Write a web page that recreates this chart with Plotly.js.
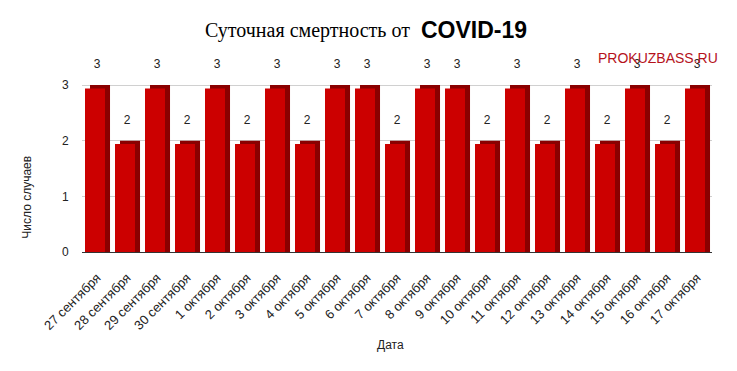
<!DOCTYPE html>
<html><head><meta charset="utf-8">
<script src="https://cdn.plot.ly/plotly-3.0.1.min.js"></script>
<style>html,body{margin:0;padding:0;background:#fff}#c{width:737px;height:371px}</style>
</head><body><div id="c"></div>
<script>
const dates = ["27 сентября","28 сентября","29 сентября","30 сентября","1 октября","2 октября","3 октября","4 октября","5 октября","6 октября","7 октября","8 октября","9 октября","10 октября","11 октября","12 октября","13 октября","14 октября","15 октября","16 октября","17 октября"];
const deaths = [3,2,3,2,3,2,3,2,3,3,2,3,3,2,3,2,3,2,3,2,3];
const labelText = deaths.map(String);
const titleMain = 'Суточная смертность от';
const titleBold = 'COVID-19';

const side = {type:'bar', x:dates, y:deaths, base:0, offset:-0.233, width:0.667,
  marker:{color:'#8a0000', line:{width:0}}, hoverinfo:'skip', showlegend:false};
const front = {type:'bar', x:dates, y:deaths, base:-0.06, offset:-0.4, width:0.667,
  marker:{color:'#cc0000', line:{width:0}}, showlegend:false};
const labels = {type:'scatter', mode:'text', x:dates, y:deaths.map(v=>v+0.36), text:labelText,
  textfont:{family:'Liberation Sans, Arial, sans-serif', size:12, color:'#222'}, hoverinfo:'skip', showlegend:false};

const layout = {
  width:737, height:371, margin:{l:82,r:25,t:50,b:119},
  paper_bgcolor:'#fff', plot_bgcolor:'#fff', barmode:'overlay',
  xaxis:{type:'category', range:[-0.5,20.5], tickangle:-45, showgrid:false, zeroline:false, showline:false,
    ticks:'outside', ticklen:12, tickcolor:'rgba(0,0,0,0)', tickfont:{family:'Liberation Sans, Arial, sans-serif', size:13, color:'#222'}},
  yaxis:{range:[0,3.63], dtick:1, showgrid:true, gridcolor:'#d0d0d0', zeroline:true, zerolinecolor:'#333', zerolinewidth:1,
    ticks:'outside', ticklen:10, tickcolor:'rgba(0,0,0,0)', tickfont:{family:'Liberation Sans, Arial, sans-serif', size:12, color:'#222'}},
  shapes:[{type:'rect', xref:'paper', yref:'y', x0:0, x1:1, y0:-0.17, y1:0, fillcolor:'#ececec', line:{width:0}, layer:'below'}],
  annotations:[
    {text:titleMain, xref:'paper', yref:'paper', x:(412-82)/630, xanchor:'right', y:1.095, yanchor:'middle', showarrow:false,
      font:{family:'Liberation Serif, Times New Roman, DejaVu Serif, serif', size:20, color:'#000'}},
    {text:'<b>'+titleBold+'</b>', xref:'paper', yref:'paper', x:(419-82)/630, xanchor:'left', y:1.10, yanchor:'middle', showarrow:false,
      font:{family:'Liberation Sans, Arial, sans-serif', size:23, color:'#000'}},
    {text:'Число случаев', xref:'paper', yref:'paper', x:-0.087, y:0.27, xanchor:'center', yanchor:'middle', textangle:-90, showarrow:false,
      font:{family:'Liberation Sans, Arial, sans-serif', size:12, color:'#222'}},
    {text:'Дата', xref:'paper', yref:'paper', x:0.49, y:-0.46, xanchor:'center', yanchor:'middle', showarrow:false,
      font:{family:'Liberation Sans, Arial, sans-serif', size:12, color:'#222'}},
    {text:'PROKUZBASS.RU', xref:'paper', yref:'paper', x:1.013, xanchor:'right', y:0.96, yanchor:'middle', showarrow:false,
      font:{family:'Liberation Sans, Arial, sans-serif', size:14, color:'#b5121b'}}
  ]
};
Plotly.newPlot('c',[side,front,labels],layout,{displayModeBar:false,staticPlot:true});
</script></body></html>
